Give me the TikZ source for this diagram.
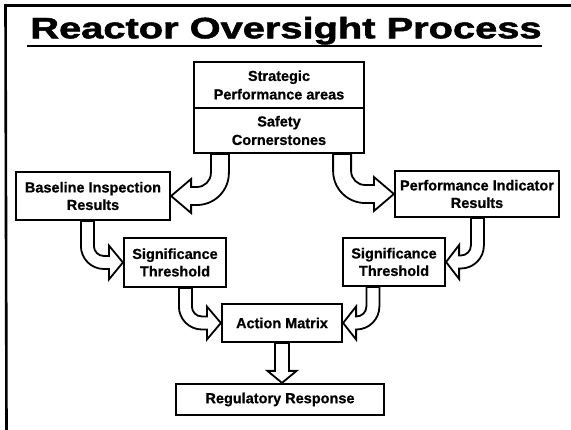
\documentclass[tikz,border=0pt]{standalone}
\usepackage{fontspec}
\setmainfont{Liberation Sans}[BoldFeatures={FakeBold=0.7}]
\newfontfamily\titlefont{Liberation Sans}[BoldFeatures={FakeBold=1.6}]
\usetikzlibrary{backgrounds}

% bent block arrow: #1 start coordinate, #2 tip coordinate, #3 half shaft width,
% #4 half head height, #5 head length, #6 inner bend radius
\newcommand\bentarrow[6]{%
 \pgfpointanchor{#1}{center}\pgfgetlastxy{\BAsx}{\BAsy}%
 \pgfpointanchor{#2}{center}\pgfgetlastxy{\BAtx}{\BAty}%
 \pgfmathsetmacro\BAd{(\BAtx>\BAsx)?1:-1}%
 \pgfmathsetmacro\BAk{0.4477}%
 \pgfmathsetmacro\BAxi{\BAsx+\BAd*#3}%
 \pgfmathsetmacro\BAxo{\BAsx-\BAd*#3}%
 \pgfmathsetmacro\BAyt{\BAty+#3}%
 \pgfmathsetmacro\BAyb{\BAty-#3}%
 \pgfmathsetmacro\BAro{#6+2*#3}%
 \pgfmathsetmacro\BAyp{\BAyt+#6}%
 \pgfmathsetmacro\BAcpa{\BAyt+#6*\BAk}%
 \pgfmathsetmacro\BAxp{\BAxi+\BAd*#6}%
 \pgfmathsetmacro\BAcpb{\BAxi+\BAd*#6*\BAk}%
 \pgfmathsetmacro\BAbx{\BAtx-\BAd*#5}%
 \pgfmathsetmacro\BAyh{\BAty+#4}%
 \pgfmathsetmacro\BAyl{\BAty-#4}%
 \pgfmathsetmacro\BAxq{\BAxo+\BAd*\BAro}%
 \pgfmathsetmacro\BAcqa{\BAxo+\BAd*\BAro*\BAk}%
 \pgfmathsetmacro\BAyq{\BAyb+\BAro}%
 \pgfmathsetmacro\BAcqb{\BAyb+\BAro*\BAk}%
 \draw[blockarrow] (\BAxi pt,\BAsy) -- (\BAxi pt,\BAyp pt)
   .. controls (\BAxi pt,\BAcpa pt) and (\BAcpb pt,\BAyt pt) .. (\BAxp pt,\BAyt pt)
   -- (\BAbx pt,\BAyt pt) -- (\BAbx pt,\BAyh pt) -- (\BAtx,\BAty)
   -- (\BAbx pt,\BAyl pt) -- (\BAbx pt,\BAyb pt) -- (\BAxq pt,\BAyb pt)
   .. controls (\BAcqa pt,\BAyb pt) and (\BAxo pt,\BAcqb pt) .. (\BAxo pt,\BAyq pt)
   -- (\BAxo pt,\BAsy) -- cycle;
}
% straight downward block arrow: #1 start, #2 tip, #3 half shaft, #4 half head, #5 head length
\newcommand\downblockarrow[5]{%
 \pgfpointanchor{#1}{center}\pgfgetlastxy{\BAsx}{\BAsy}%
 \pgfpointanchor{#2}{center}\pgfgetlastxy{\BAtx}{\BAty}%
 \pgfmathsetmacro\BAxl{\BAsx-#3}%
 \pgfmathsetmacro\BAxr{\BAsx+#3}%
 \pgfmathsetmacro\BAhl{\BAsx-#4}%
 \pgfmathsetmacro\BAhr{\BAsx+#4}%
 \pgfmathsetmacro\BAby{\BAty+#5}%
 \draw[blockarrow] (\BAxl pt,\BAsy) -- (\BAxl pt,\BAby pt) -- (\BAhl pt,\BAby pt)
   -- (\BAsx,\BAty) -- (\BAhr pt,\BAby pt) -- (\BAxr pt,\BAby pt) -- (\BAxr pt,\BAsy) -- cycle;
}

\tikzset{
  box/.style={draw, line width=2.2pt, fill=white, align=center, inner sep=0pt,
              font=\bfseries\fontsize{14.5}{17.5}\selectfont},
  blockarrow/.style={draw, fill=white, line width=1.8pt, line join=miter},
  frameline/.style={line width=2.6pt}
}

\begin{document}
\begin{tikzpicture}[x=1pt,y=-1pt]
\useasboundingbox (0,0) rectangle (571,430);

% frame
\coordinate (fTR) at (571,5.5);
\coordinate (fTL) at (5.5,5.5);
\coordinate (fBL) at (6.5,430);
\draw[frameline] (fTR) -- (fTL) -- (fBL);

% title
\node[anchor=base, inner sep=0pt, font=\titlefont\bfseries\fontsize{29.5}{30}\selectfont] (title) at (286,38.3)
  {\scalebox{1.35}[1]{Reactor Oversight Process}};
\coordinate (ulL) at (27,46);
\coordinate (ulR) at (542,46);
\draw[line width=2.6pt] (ulL) -- (ulR);

% boxes
\node[box, minimum width=170pt, minimum height=46pt, font=\bfseries\fontsize{14.5}{18.5}\selectfont]
  (top1) at (279,85) {Strategic\\Performance areas};
\node[box, minimum width=170pt, minimum height=45pt, font=\bfseries\fontsize{14.5}{18.5}\selectfont]
  (top2) at (279,130.5) {Safety\\Cornerstones};
\node[box, minimum width=154pt, minimum height=48pt] (base) at (93,196) {Baseline Inspection\\Results};
\node[box, minimum width=164pt, minimum height=46pt] (pi) at (477,194) {Performance Indicator\\Results};
\node[box, minimum width=102pt, minimum height=49pt] (st1) at (175,262.5) {Significance\\Threshold};
\node[box, minimum width=102pt, minimum height=48pt] (st2) at (394,262) {Significance\\Threshold};
\node[box, minimum width=120pt, minimum height=38pt] (am) at (282,323) {Action Matrix};
\node[box, minimum width=208pt, minimum height=31pt] (rr) at (280,399.5) {Regulatory Response};

% connector end points
\coordinate (aS) at ([xshift=27pt]top2.south west);
\coordinate (aT) at (base.east);
\coordinate (bS) at ([xshift=-23pt]top2.south east);
\coordinate (bT) at (pi.west);
\coordinate (cS) at ([xshift=72.5pt]base.south west);
\coordinate (cT) at (st1.west);
\coordinate (dS) at ([xshift=62.5pt]st1.south west);
\coordinate (dT) at (am.west);
\coordinate (eS) at ([xshift=83.5pt]pi.south west);
\coordinate (eT) at (st2.east);
\coordinate (fS) at ([xshift=31pt]st2.south west);
\coordinate (fT) at (am.east);
\coordinate (gS) at (am.south);
\coordinate (gT) at (rr.north);

\begin{pgfonlayer}{background}
\bentarrow{aS}{aT}{9}{17}{20}{14}
\bentarrow{bS}{bT}{9}{17}{20}{14}
\bentarrow{cS}{cT}{6.5}{17}{14}{10}
\bentarrow{dS}{dT}{6.5}{16.5}{14}{10}
\bentarrow{eS}{eT}{6.5}{17}{13}{10}
\bentarrow{fS}{fT}{6.5}{16.5}{13}{10}
\downblockarrow{gS}{gT}{7}{14.5}{12}
\end{pgfonlayer}
\end{tikzpicture}
\end{document}
